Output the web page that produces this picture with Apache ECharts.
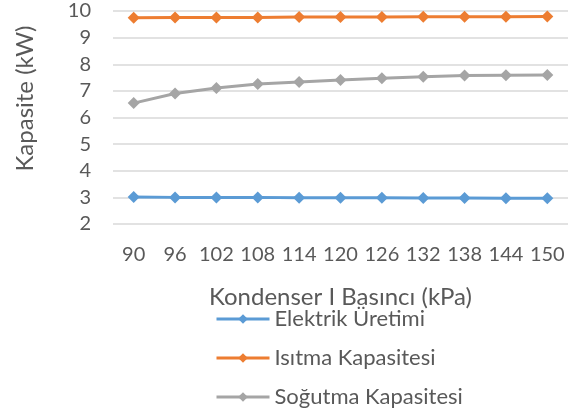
<!DOCTYPE html>
<html>
<head>
<meta charset="utf-8">
<script src="https://cdn.jsdelivr.net/npm/echarts@6/dist/echarts.min.js"></script>
<style>
  html, body { margin: 0; padding: 0; background: #ffffff; }
  #chart { width: 581px; height: 417px; }
</style>
</head>
<body>
<div id="chart"></div>
<script>
// Condenser pressure (kPa) on the x axis
const pressures = ['90', '96', '102', '108', '114', '120', '126', '132', '138', '144', '150'];

// Capacities in kW
const elektrikUretimi = [3.01, 3.00, 3.00, 3.00, 2.99, 2.99, 2.99, 2.98, 2.98, 2.97, 2.97];
const isitmaKapasitesi = [9.75, 9.76, 9.76, 9.76, 9.77, 9.77, 9.77, 9.78, 9.78, 9.78, 9.79];
const sogutmaKapasitesi = [6.54, 6.90, 7.11, 7.26, 7.33, 7.41, 7.47, 7.53, 7.58, 7.59, 7.60];

const seriesNames = ['Elektrik Üretimi', 'Isıtma Kapasitesi', 'Soğutma Kapasitesi'];
const seriesColors = ['#5b9bd5', '#ed7d31', '#a5a5a5'];

const FONT = 'Lato, sans-serif';
const TEXT = '#595959';

const chart = echarts.init(document.getElementById('chart'));

function lineSeries(name, data, color) {
  return {
    name: name,
    type: 'line',
    data: data,
    symbol: 'diamond',
    symbolSize: 12,
    lineStyle: { color: color, width: 3 },
    itemStyle: { color: color },
    animation: false
  };
}

chart.setOption({
  animation: false,
  grid: { left: 113, right: 13, top: 11, bottom: 193, containLabel: false },
  xAxis: {
    type: 'category',
    data: pressures,
    boundaryGap: true,
    axisLine: { show: false },
    axisTick: { show: false },
    axisLabel: { color: TEXT, fontFamily: FONT, fontSize: 20, margin: 21, interval: 0 },
    name: 'Kondenser I Basıncı (kPa)',
    nameLocation: 'middle',
    nameGap: 61,
    nameTextStyle: { color: TEXT, fontFamily: FONT, fontSize: 24 }
  },
  yAxis: {
    type: 'value',
    min: 2,
    max: 10,
    interval: 1,
    axisLine: { show: false },
    axisTick: { show: false },
    splitLine: { show: true, lineStyle: { color: '#d9d9d9', width: 1.5 } },
    axisLabel: { color: TEXT, fontFamily: FONT, fontSize: 20, margin: 22 },
    name: 'Kapasite (kW)',
    nameLocation: 'middle',
    nameRotate: 90,
    nameGap: 76,
    nameTextStyle: { color: TEXT, fontFamily: FONT, fontSize: 24, padding: [0, 0, 0, 38] }
  },
  legend: {
    orient: 'vertical',
    left: 210,
    top: 303,
    itemWidth: 53,
    itemHeight: 12,
    itemGap: 17,
    lineStyle: { width: 3 },
    textStyle: { color: TEXT, fontFamily: FONT, fontSize: 22 },
    data: seriesNames
  },
  series: [
    lineSeries(seriesNames[0], elektrikUretimi, seriesColors[0]),
    lineSeries(seriesNames[1], isitmaKapasitesi, seriesColors[1]),
    lineSeries(seriesNames[2], sogutmaKapasitesi, seriesColors[2])
  ]
});
</script>
</body>
</html>
